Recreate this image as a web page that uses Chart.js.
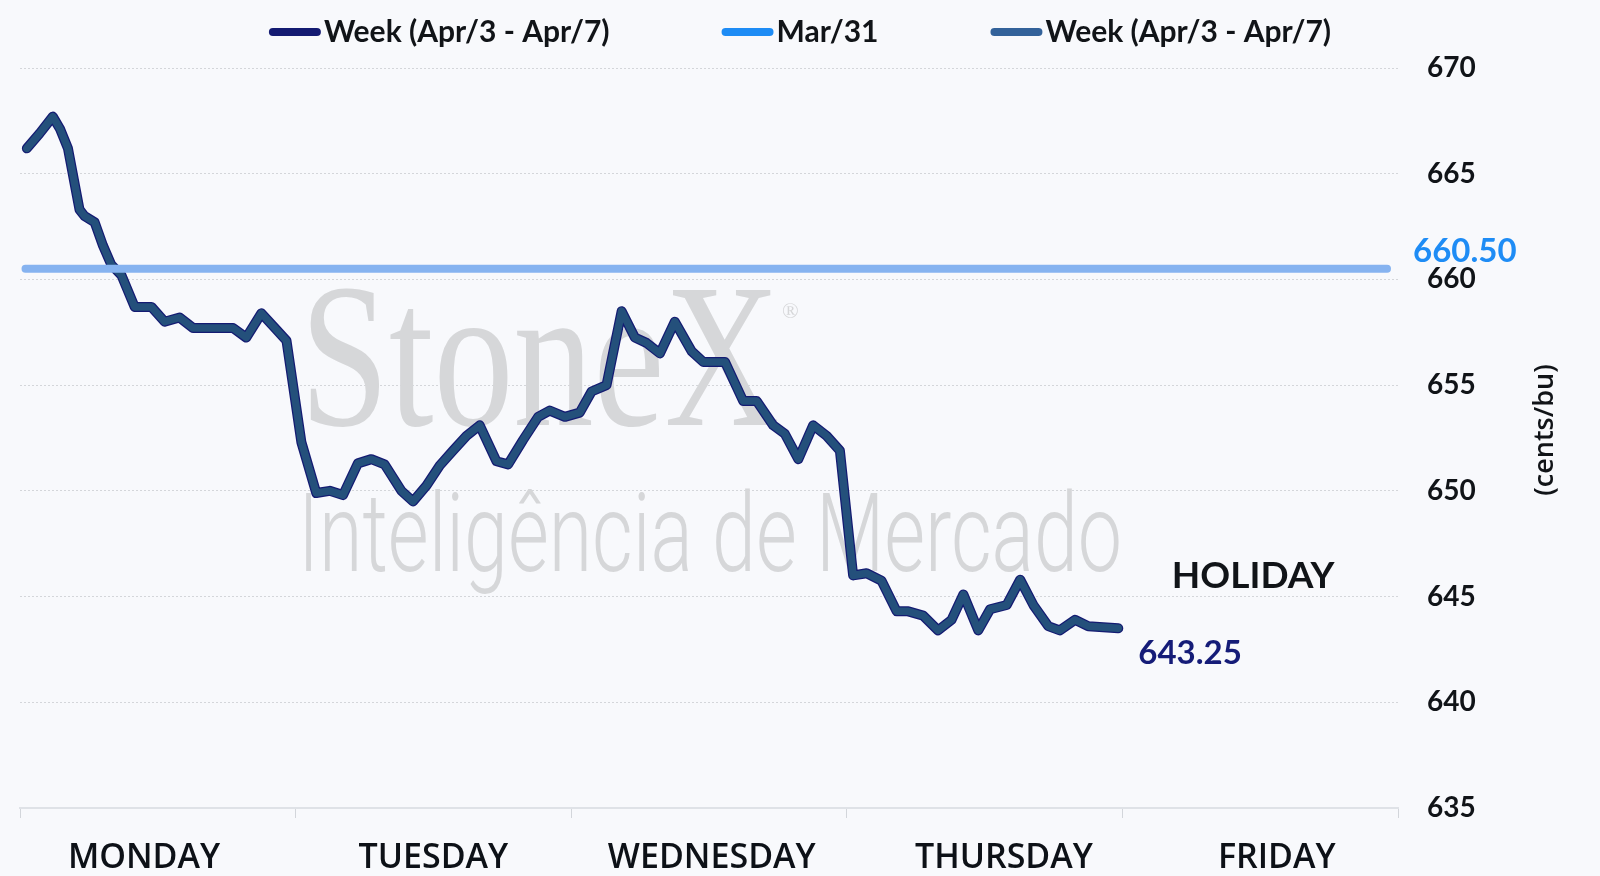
<!DOCTYPE html>
<html>
<head>
<meta charset="utf-8">
<script src="https://cdn.jsdelivr.net/npm/chart.js@4.4.1/dist/chart.umd.min.js"></script>
<style>
  html, body { margin: 0; padding: 0; background: #f8f9fc; }
  #wrap { width: 1600px; height: 876px; }
</style>
</head>
<body>
<div id="wrap"><canvas id="weekChart"></canvas></div>
<script>
// x axis: days of the week, line positions are in "days" (0 = Monday open)
const days = ["MONDAY", "TUESDAY", "WEDNESDAY", "THURSDAY", "FRIDAY"];
const dayBounds = [0, 1, 2, 3, 4, 5];
const dayLabelAt = [0.45, 1.5, 2.51, 3.57, 4.56];

const times = [
  0.025, 0.071, 0.119, 0.146, 0.174, 0.216, 0.234, 0.271, 0.301, 0.331,
  0.368, 0.416, 0.477, 0.525, 0.579, 0.628, 0.773, 0.821, 0.876, 0.918,
  0.967, 1.021, 1.075, 1.124, 1.172, 1.226, 1.275, 1.323, 1.384, 1.426,
  1.475, 1.523, 1.571, 1.620, 1.668, 1.729, 1.771, 1.825, 1.880, 1.922,
  1.977, 2.031, 2.074, 2.128, 2.183, 2.231, 2.273, 2.322, 2.376, 2.437,
  2.479, 2.558, 2.624, 2.673, 2.733, 2.775, 2.824, 2.878, 2.927, 2.975,
  3.023, 3.072, 3.126, 3.181, 3.223, 3.277, 3.331, 3.380, 3.423, 3.477,
  3.520, 3.580, 3.629, 3.677, 3.731, 3.773, 3.828, 3.876, 3.985
];

const prices = [
  666.2, 666.9, 667.7, 667.1, 666.2, 663.3, 663.0, 662.7, 661.6, 660.7,
  660.2, 658.7, 658.7, 658.0, 658.2, 657.7, 657.7, 657.25, 658.4, 657.8,
  657.1, 652.3, 649.9, 650.0, 649.8, 651.3, 651.5, 651.25, 650.0, 649.5,
  650.25, 651.2, 651.9, 652.6, 653.1, 651.4, 651.25, 652.4, 653.5, 653.8,
  653.5, 653.7, 654.7, 655.0, 658.5, 657.25, 657.0, 656.5, 658.0, 656.6,
  656.1, 656.1, 654.25, 654.25, 653.1, 652.7, 651.5, 653.1, 652.6, 651.9,
  646.0, 646.1, 645.75, 644.3, 644.3, 644.1, 643.4, 643.9, 645.1, 643.4,
  644.4, 644.6, 645.8, 644.6, 643.6, 643.4, 643.9, 643.6, 643.5
];

const marchClose = 660.5;
const marchSpan = [0.02, 4.96];
const lastClose = 643.25;
const holidayText = "HOLIDAY";
const seriesNames = ["Week (Apr/3 - Apr/7)", "Mar/31", "Week (Apr/3 - Apr/7)"];
const keyColors = ["#141b72", "#1e8cf5", "#33629a"];
const yRange = [635, 670];
const yStep = 5;
const unitTitle = "(cents/bu)";

const weekPoints = times.map((t, i) => ({ x: t, y: prices[i] }));
const marchPoints = marchSpan.map(t => ({ x: t, y: marchClose }));

// watermark behind the lines
const watermark = {
  id: "watermark",
  beforeDatasetsDraw(chart) {
    const ctx = chart.ctx;
    ctx.save();
    ctx.fillStyle = "#d6d7d9";
    ctx.textBaseline = "alphabetic";
    ctx.textAlign = "left";
    ctx.font = "205px 'Liberation Serif'";
    ctx.fillText("StoneX", 300, 425, 480);
    ctx.font = "22px 'Liberation Serif'";
    ctx.fillText("®", 782, 318);
    ctx.font = "300 110px Roboto";
    ctx.fillText("Inteligência de Mercado", 298, 571, 824);
    ctx.restore();
  }
};

// value labels, holiday note, rotated unit title
const notes = {
  id: "notes",
  afterDraw(chart) {
    const { ctx, scales } = chart;
    const x = scales.x, y = scales.y;
    ctx.save();
    ctx.textBaseline = "middle";
    ctx.textAlign = "left";

    ctx.font = "bold 33px Lato";
    ctx.fillStyle = "#1e8cf5";
    ctx.fillText(marchClose.toFixed(2), 1413, y.getPixelForValue(marchClose) - 17);

    ctx.fillStyle = "#151c78";
    ctx.fillText(lastClose.toFixed(2), x.getPixelForValue(times[times.length - 1]) + 20,
      y.getPixelForValue(prices[prices.length - 1]) + 25);

    ctx.textAlign = "center";
    ctx.font = "bold 37px Lato";
    ctx.fillStyle = "#111418";
    ctx.fillText(holidayText, x.getPixelForValue(4.5) - 7, y.getPixelForValue(645.95));

    ctx.translate(1545, 430);
    ctx.rotate(-Math.PI / 2);
    ctx.font = "600 27px 'Open Sans'";
    ctx.fillText(unitTitle, 0, 0);
    ctx.restore();
  }
};

// legend drawn by hand to get the wide spacing
const seriesKey = {
  id: "seriesKey",
  afterDraw(chart) {
    const ctx = chart.ctx;
    const boxW = 52, boxH = 8, gap = 3, spacing = 112;
    ctx.save();
    ctx.font = "bold 30px Lato";
    const widths = seriesNames.map(n => boxW + gap + ctx.measureText(n).width);
    const total = widths.reduce((a, b) => a + b, 0) + spacing * (widths.length - 1);
    let cx = chart.width / 2 - total / 2;
    const cy = 32;
    seriesNames.forEach((name, i) => {
      ctx.fillStyle = keyColors[i];
      ctx.beginPath();
      ctx.roundRect(cx, cy - boxH / 2, boxW, boxH, boxH / 2);
      ctx.fill();
      ctx.fillStyle = "#111418";
      ctx.textBaseline = "middle";
      ctx.fillText(name, cx + boxW + gap, cy);
      cx += widths[i] + spacing;
    });
    ctx.restore();
  }
};

const data = {
  datasets: [
    {
      label: seriesNames[0],
      data: weekPoints,
      borderColor: "#141b72",
      borderWidth: 10,
      order: 2
    },
    {
      label: seriesNames[1],
      data: marchPoints,
      borderColor: "#86b3f0",
      borderWidth: 8,
      order: 0
    },
    {
      label: seriesNames[2],
      data: weekPoints,
      borderColor: "#24507b",
      borderWidth: 7.5,
      order: 1
    }
  ]
};

const isBound = v => dayBounds.includes(v);

const options = {
  animation: false,
  responsive: true,
  maintainAspectRatio: false,
  layout: { padding: { left: 20, top: 68, right: 0, bottom: 0 } },
  elements: {
    point: { radius: 0, hoverRadius: 0 },
    line: { tension: 0, borderCapStyle: "round", borderJoinStyle: "round" }
  },
  plugins: {
    legend: { display: false },
    tooltip: { enabled: false }
  },
  scales: {
    x: {
      type: "linear",
      min: dayBounds[0],
      max: dayBounds[dayBounds.length - 1],
      position: "bottom",
      afterBuildTicks(scale) {
        scale.ticks = dayBounds.concat(dayLabelAt).sort((a, b) => a - b).map(v => ({ value: v }));
      },
      afterFit(scale) { scale.height = 68; },
      grid: {
        drawOnChartArea: false,
        tickLength: 10,
        tickColor: c => (c.tick && isBound(c.tick.value)) ? "#d3d6db" : "rgba(0,0,0,0)"
      },
      border: { color: "#dfe2e7", width: 2 },
      ticks: {
        autoSkip: false,
        maxRotation: 0,
        padding: 20,
        color: "#0d1117",
        font: { family: "'Open Sans'", weight: "600", size: 34 },
        callback: v => {
          const i = dayLabelAt.indexOf(v);
          return i >= 0 ? days[i] : "";
        }
      }
    },
    y: {
      position: "right",
      min: yRange[0],
      max: yRange[1],
      afterFit(scale) { scale.width = 202; },
      grid: { drawTicks: false, color: "#d4d6da" },
      border: { display: false, dash: [2, 2] },
      ticks: {
        stepSize: yStep,
        padding: 29,
        crossAlign: "near",
        color: "#111418",
        font: { family: "Lato", weight: "bold", size: 28 }
      }
    }
  }
};

new Chart(document.getElementById("weekChart"), {
  type: "line",
  data: data,
  options: options,
  plugins: [watermark, notes, seriesKey]
});
</script>
</body>
</html>
